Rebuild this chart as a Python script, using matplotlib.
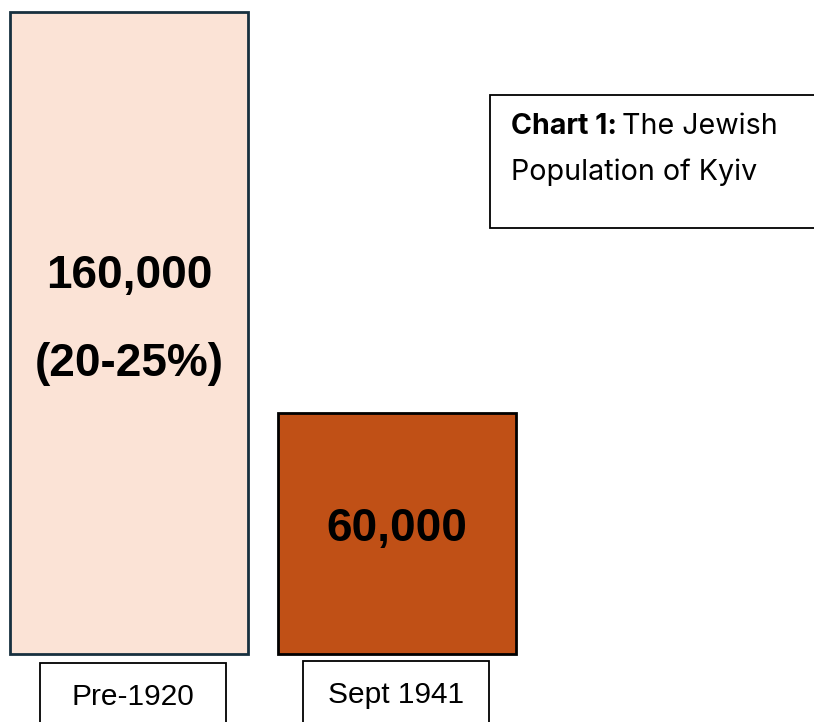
import matplotlib.pyplot as plt
from matplotlib.patches import Rectangle

## data
periods = ['Pre-1920', 'Sept 1941']
population = [160000, 60000]
bar_text = ['160,000\n\n(20-25%)', '60,000']
fill_colors = ['#fbe3d6', '#c05016']
edge_colors = ['#17303f', '#000000']

fig = plt.figure(figsize=(8.14, 7.22), dpi=100)
ax = fig.add_axes([0, 0, 1, 1])
ax.set_xlim(-0.481, 2.556)
ax.set_ylim(-16947, 162991)
ax.axis('off')

x = range(len(periods))
bars = ax.bar(x, population, width=0.888, color=fill_colors,
              edgecolor=edge_colors, linewidth=2)

## numbers inside the bars
text_shift = [3240, 1250]
for i, (v, t) in enumerate(zip(population, bar_text)):
    ax.text(i, v / 2 + text_shift[i], t, ha='center', va='center',
            fontsize=33, fontweight='bold', family='Liberation Sans',
            linespacing=1.0)

## category boxes below the bars
box_x = [0.015, 0.998]
box_top = [-2243, -1750]
label_y = [-10650, -10150]
for i, p in enumerate(periods):
    ax.add_patch(Rectangle((box_x[i] - 0.347, -30000), 0.694, 30000 + box_top[i],
                           facecolor='white', edgecolor='black', linewidth=1.3,
                           clip_on=False))
    ax.text(box_x[i], label_y[i], p, ha='center', va='center',
            fontsize=21.5, family='Liberation Sans')

## title box
fig.patches.append(Rectangle((490 / 814, (722 - 228) / 722), 0.5, 133 / 722,
                             transform=fig.transFigure, facecolor='white',
                             edgecolor='black', linewidth=1.3))
t1 = fig.text(511 / 814, (722 - 127) / 722, 'Chart 1:', fontsize=20.6,
              fontweight='bold', family='Inter', va='center')
fig.canvas.draw()
bb = t1.get_window_extent()
fig.text(bb.x1 / 814 + 0.006, (722 - 127) / 722, 'The Jewish', fontsize=20.6,
         family='Inter', va='center')
fig.text(511 / 814, (722 - 172) / 722, 'Population of Kyiv', fontsize=20.6,
         family='Inter', va='center')

plt.savefig('out.png', dpi=100)
